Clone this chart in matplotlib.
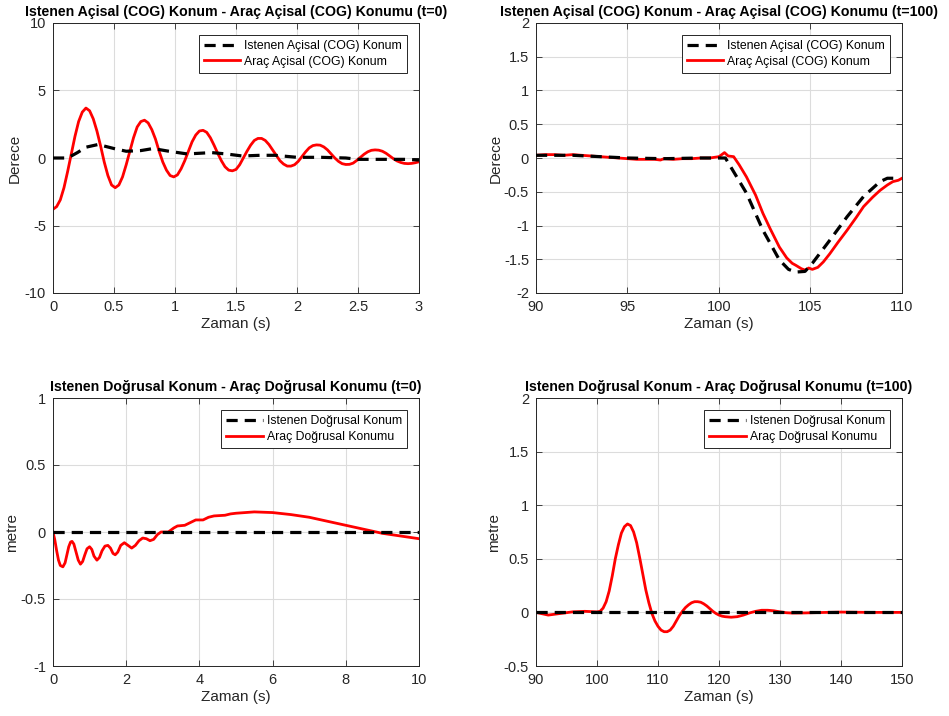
import matplotlib.pyplot as plt
import numpy as np

plt.rcParams['font.family'] = ['Liberation Sans', 'DejaVu Sans']

# --- Aci (t=0) ---
t_a0 = np.round(np.arange(0, 3.001, 0.03), 2)
red_a0 = [-3.8, -3.6, -3.1, -2.2, -1.0, 0.3, 1.6, 2.7, 3.4, 3.7,
          3.5, 2.9, 2.0, 0.9, -0.3, -1.3, -2.0, -2.2, -2.0, -1.4,
          -0.5, 0.5, 1.5, 2.3, 2.7, 2.8, 2.6, 2.1, 1.4, 0.5,
          -0.3, -0.9, -1.3, -1.4, -1.25, -0.8, -0.2, 0.5, 1.2, 1.7,
          2.0, 2.05, 1.9, 1.5, 0.95, 0.35, -0.2, -0.65, -0.9, -0.95,
          -0.85, -0.5, 0.0, 0.5, 0.95, 1.3, 1.45, 1.45, 1.3, 1.0,
          0.6, 0.2, -0.2, -0.45, -0.6, -0.6, -0.5, -0.25, 0.1, 0.45,
          0.75, 0.92, 0.97, 0.95, 0.82, 0.6, 0.3, 0.0, -0.25, -0.42,
          -0.48, -0.47, -0.38, -0.18, 0.05, 0.28, 0.46, 0.57, 0.6, 0.58,
          0.5, 0.35, 0.15, -0.05, -0.22, -0.33, -0.4, -0.42, -0.4, -0.35,
          -0.28]
t_a0_ref = [0, 0.12, 0.2, 0.27, 0.37, 0.5, 0.6, 0.72, 0.82, 0.95, 1.1, 1.2, 1.3,
            1.42, 1.55, 1.7, 1.82, 2.0, 2.2, 2.4, 2.5, 2.7, 2.9, 3.0]
ref_a0 = [0, 0.0, 0.4, 0.8, 1.0, 0.7, 0.5, 0.55, 0.7, 0.5, 0.3, 0.35, 0.4,
          0.3, 0.15, 0.2, 0.2, 0.05, 0.05, 0.0, -0.1, -0.1, -0.1, -0.15]

# --- Aci (t=100) ---
t_a100_ref = [90, 92, 93.5, 95, 97, 99, 100.35, 101.5, 102.4, 103.3, 103.8, 104.2,
              104.7, 105.1, 106.05, 107.0, 107.9, 108.8, 109.2, 109.7]
ref_a100 = [0.04, 0.04, 0.02, 0.0, -0.01, 0.0, 0.0, -0.52, -1.07, -1.51, -1.65, -1.69,
            -1.68, -1.56, -1.22, -0.87, -0.57, -0.35, -0.3, -0.3]
t_a100 = [90, 90.5, 91, 91.5, 92, 92.5, 93, 93.5, 94, 94.5, 95, 95.5, 96, 96.5, 96.8, 97,
          97.5, 98, 98.5, 99, 99.5, 100, 100.3, 100.5, 100.8, 101.1, 101.5, 102.0, 102.4,
          102.8, 103.3, 103.7, 104.0, 104.2, 104.5, 104.7, 104.9, 105.1, 105.4, 105.7,
          106.05, 106.5, 107.0, 107.5, 107.9, 108.4, 108.8, 109.2, 109.5, 109.8, 110]
red_a100 = [0.04, 0.05, 0.05, 0.04, 0.05, 0.04, 0.03, 0.02, 0.01, 0.0, -0.01, -0.02,
            -0.02, -0.02, -0.03, -0.01, -0.02, -0.01, -0.01, 0.0, 0.0, 0.02, 0.08, 0.03,
            0.02, -0.1, -0.28, -0.55, -0.82, -1.05, -1.32, -1.48, -1.56, -1.59, -1.64,
            -1.66, -1.63, -1.65, -1.62, -1.54, -1.42, -1.25, -1.07, -0.88, -0.72, -0.58,
            -0.48, -0.4, -0.35, -0.33, -0.3]

# --- Dogrusal (t=0) ---
t_d0 = [0, 0.05, 0.1, 0.15, 0.2, 0.27, 0.33, 0.38, 0.43, 0.48, 0.52, 0.57, 0.63,
        0.69, 0.75, 0.81, 0.87, 0.93, 1.0, 1.06, 1.12, 1.2, 1.27, 1.34, 1.42, 1.5,
        1.57, 1.64, 1.7, 1.77, 1.85, 1.95, 2.05, 2.15, 2.25, 2.35, 2.45, 2.55, 2.65,
        2.75, 2.85, 2.95, 3.05, 3.15, 3.3, 3.4, 3.6, 3.75, 3.9, 4.1, 4.25, 4.4, 4.7,
        4.85, 5.0, 5.5, 6.0, 6.5, 7.0, 7.5, 8.0, 8.5, 9.0, 9.5, 10.0]
red_d0 = [0.0, -0.06, -0.14, -0.21, -0.25, -0.26, -0.23, -0.17, -0.11, -0.075, -0.07,
          -0.09, -0.15, -0.21, -0.24, -0.22, -0.17, -0.125, -0.11, -0.13, -0.18, -0.21,
          -0.19, -0.14, -0.105, -0.10, -0.12, -0.16, -0.17, -0.15, -0.10, -0.08, -0.10,
          -0.12, -0.10, -0.065, -0.045, -0.05, -0.065, -0.055, -0.02, 0.0, 0.0, 0.0,
          0.03, 0.045, 0.05, 0.07, 0.09, 0.09, 0.11, 0.12, 0.125, 0.135, 0.14, 0.15,
          0.145, 0.13, 0.11, 0.08, 0.05, 0.02, -0.01, -0.03, -0.05]
t_d0_ref = [0, 10]
ref_d0 = [0, 0]

# --- Dogrusal (t=100) ---
t_d100 = [90, 92, 94, 96, 98, 100, 100.5, 101, 101.5, 102, 102.5, 103, 103.5, 104,
          104.5, 105, 105.5, 106, 106.5, 107, 107.5, 108, 108.5, 109, 109.5, 110,
          110.5, 111, 111.5, 112, 112.5, 113, 113.5, 114, 114.5, 115, 115.5, 116,
          116.5, 117, 117.5, 118, 118.5, 119, 119.5, 120, 120.5, 121, 122, 123, 124,
          125, 126, 127, 128, 129, 130, 131, 132, 134, 136, 140, 145, 150]
red_d100 = [0.0, -0.025, -0.01, 0.005, 0.01, 0.005, 0.01, 0.04, 0.10, 0.2, 0.34, 0.5,
            0.63, 0.74, 0.80, 0.825, 0.81, 0.75, 0.65, 0.51, 0.36, 0.21, 0.09, -0.01,
            -0.08, -0.13, -0.165, -0.18, -0.18, -0.165, -0.13, -0.08, -0.03, 0.01,
            0.045, 0.07, 0.09, 0.10, 0.10, 0.095, 0.08, 0.06, 0.035, 0.01, -0.01,
            -0.025, -0.035, -0.04, -0.045, -0.04, -0.025, -0.005, 0.01, 0.02, 0.02,
            0.015, 0.005, -0.003, -0.006, -0.005, -0.002, 0.003, 0.0, 0.0]
t_d100_ref = [90, 150]
ref_d100 = [0, 0]

fig = plt.figure(figsize=(9.49, 7.16), dpi=100)
W, H = 949.0, 716.0
# axes boxes in pixels (left, top, right, bottom) and x of the y label's right edge
boxes = [(53, 23, 419, 293, 22), (536, 23, 902, 293, 503),
         (53, 398, 419, 666, 19), (536, 398, 902, 666, 501)]

panels = [
    (t_a0_ref, ref_a0, t_a0, red_a0, (0, 3), (-10, 10), np.arange(0, 3.01, 0.5), np.arange(-10, 11, 5),
     'Istenen Açisal (COG) Konum - Araç Açisal (COG) Konumu (t=0)', 'Derece',
     'Istenen Açisal (COG) Konum', 'Araç Açisal (COG) Konum'),
    (t_a100_ref, ref_a100, t_a100, red_a100, (90, 110), (-2, 2), np.arange(90, 111, 5), np.arange(-2, 2.01, 0.5),
     'Istenen Açisal (COG) Konum - Araç Açisal (COG) Konumu (t=100)', 'Derece',
     'Istenen Açisal (COG) Konum', 'Araç Açisal (COG) Konum'),
    (t_d0_ref, ref_d0, t_d0, red_d0, (0, 10), (-1, 1), np.arange(0, 11, 2), np.arange(-1, 1.01, 0.5),
     'Istenen Doğrusal Konum - Araç Doğrusal Konumu (t=0)', 'metre',
     'Istenen Doğrusal Konum', 'Araç Doğrusal Konumu'),
    (t_d100_ref, ref_d100, t_d100, red_d100, (90, 150), (-0.5, 2), np.arange(90, 151, 10), np.arange(-0.5, 2.01, 0.5),
     'Istenen Doğrusal Konum - Araç Doğrusal Konumu (t=100)', 'metre',
     'Istenen Doğrusal Konum', 'Araç Doğrusal Konumu'),
]

for (x0, y0, x1, y1, xlab), p in zip(boxes, panels):
    tr, yr, tv, yv, xl, yl, xt, yt, title, ylab, lab1, lab2 = p
    ax = fig.add_axes([x0 / W, 1 - y1 / H, (x1 - x0) / W, (y1 - y0) / H])
    ax.plot(tr, yr, color='black', ls=(0, (3.5, 2.2)), lw=2.3, label=lab1, zorder=3)
    ax.plot(tv, yv, color='red', lw=2.0, label=lab2, zorder=2)
    ax.set_xlim(*xl)
    ax.set_ylim(*yl)
    ax.set_xticks(xt)
    ax.set_yticks(yt)
    ax.set_xticklabels(['%g' % v for v in xt])
    ax.set_yticklabels(['%g' % v for v in yt])
    ax.grid(True, color='#dcdcdc', lw=0.8)
    ax.set_axisbelow(True)
    ax.tick_params(direction='in', top=True, right=True, labelsize=10.5,
                   colors='#262626', length=4, width=0.6, pad=5)
    for s in ax.spines.values():
        s.set_color('#262626')
        s.set_linewidth(0.7)
    ax.set_title(title, fontsize=10.2, fontweight='bold', pad=5)
    ax.set_xlabel('Zaman (s)', fontsize=11, color='#262626', labelpad=2)
    ax.set_ylabel(ylab, fontsize=11, color='#262626')
    ax.yaxis.set_label_coords((xlab - x0) / (x1 - x0), 0.5)
    leg = ax.legend(loc='upper right', fontsize=8.8, fancybox=False, framealpha=1,
                    edgecolor='#262626', handlelength=3.0, handletextpad=0.3,
                    borderpad=0.4, labelspacing=0.3, borderaxespad=1.0)
    leg.get_frame().set_linewidth(0.7)

fig.savefig('out.png', dpi=100)
